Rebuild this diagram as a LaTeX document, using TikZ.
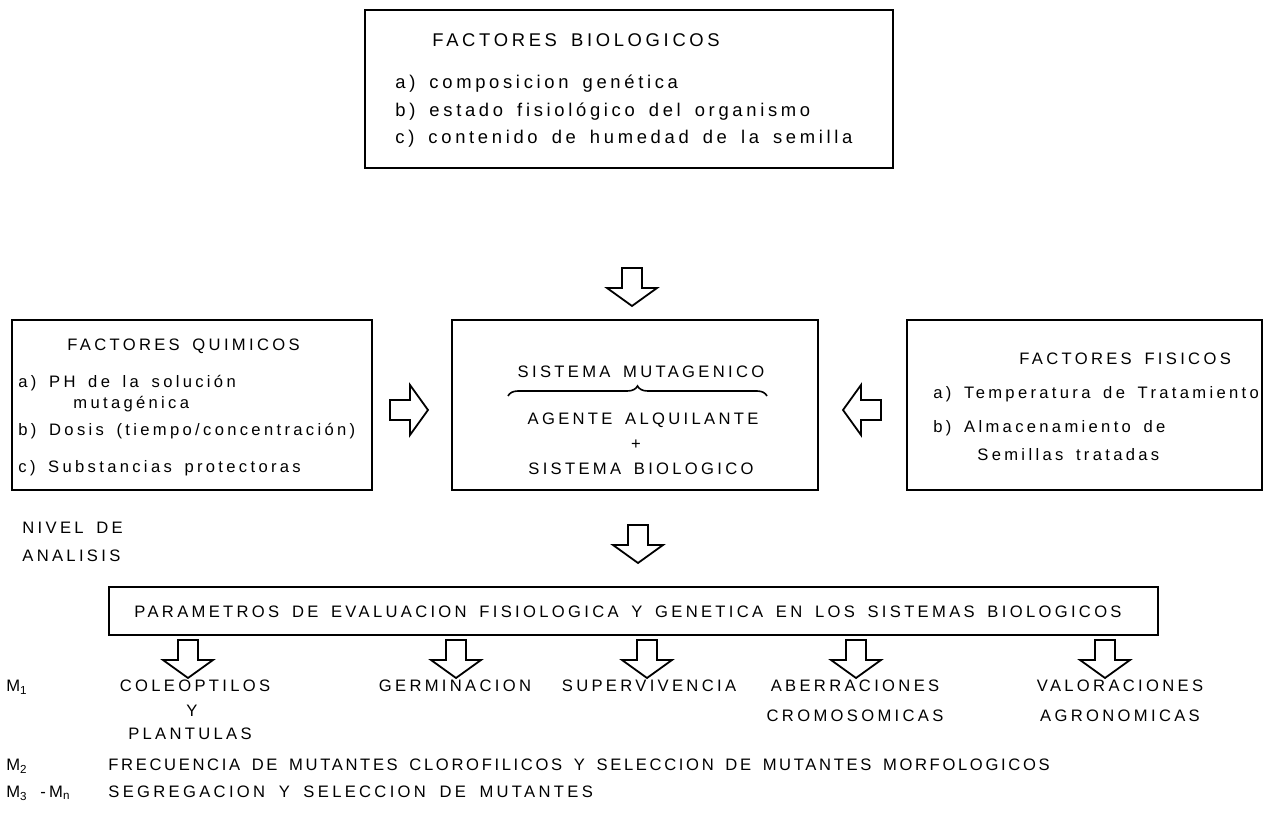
\documentclass[tikz,border=0pt]{standalone}
\usepackage{fontspec}
\setmainfont{Liberation Sans}
\newfontfamily\lettering{Liberation Sans}[LetterSpace=20,WordSpace=1.6]
\usetikzlibrary{calc,fit,decorations.pathreplacing}

\begin{document}
\begin{tikzpicture}[
    x=0.5pt, y=-0.5pt,
    every node/.style={inner sep=0pt, text height=6pt, text depth=0pt,
      font=\lettering\fontsize{8.3}{10}\selectfont},
    frame/.style={draw, line width=1pt, inner sep=0pt},
    biglbl/.style={text height=6.6pt, font=\lettering\fontsize{9.2}{11}\selectfont},
    arrowline/.style={draw, line width=0.9pt, line join=miter, fill=white},
    hollowarrow/.pic={
      \path[arrowline] (-19,-10) -- (1,-10) -- (1,-25) -- (19,0)
        -- (1,25) -- (1,10) -- (-19,10) -- cycle;
    }
  ]
  \useasboundingbox (0,0) rectangle (1264,822);

  % Boxes
  \node[frame, fit={(365,10) (893,168)}] (bio) {};
  \node[frame, fit={(12,320) (372,490)}] (quim) {};
  \node[frame, fit={(452,320) (818,490)}] (sist) {};
  \node[frame, fit={(907,320) (1262,490)}] (fis) {};
  \node[frame, fit={(109,587) (1158,635)}] (param) {};

  % Factores biologicos
  \node[biglbl, anchor=west] (bioT) at (432,40) {FACTORES BIOLOGICOS};
  \node[biglbl, anchor=west] (bioA) at (395,82) {a) composicion genética};
  \node[biglbl, anchor=west] (bioB) at (395,110) {b) estado fisiológico del organismo};
  \node[biglbl, anchor=west] (bioC) at (395,137) {c) contenido de humedad de la semilla};

  % Factores quimicos
  \node[anchor=west] (quimT) at (67,345) {FACTORES QUIMICOS};
  \node[anchor=west] (quimA) at (18,382) {a) PH de la solución};
  \node[anchor=west] (quimA2) at (73,403) {mutagénica};
  \node[anchor=west] (quimB) at (18,430) {b) Dosis (tiempo/concentración)};
  \node[anchor=west] (quimC) at (18,467) {c) Substancias protectoras};

  % Sistema mutagenico
  \node (sistT) at (641,372) {SISTEMA MUTAGENICO};
  \node (agente) at (643,419) {AGENTE ALQUILANTE};
  \node (plus) at (636,444) {+};
  \node (sistB) at (641,469) {SISTEMA BIOLOGICO};
  \draw[line width=0.8pt, decorate, decoration={brace, amplitude=5pt}]
    (508,396) -- (767,396);

  % Factores fisicos
  \node[anchor=west] (fisT) at (1019,359) {FACTORES FISICOS};
  \node[anchor=west] (fisA) at (933,393) {a) Temperatura de Tratamiento};
  \node[anchor=west] (fisB) at (933,427) {b) Almacenamiento de};
  \node[anchor=west] (fisB2) at (977,455) {Semillas tratadas};

  % Flechas hacia el sistema
  \path (632,287) pic[rotate=-90] {hollowarrow};
  \path (409,410) pic {hollowarrow};
  \path (862,410) pic[rotate=180] {hollowarrow};

  % Nivel de analisis
  \node[anchor=west] (nivel) at (22,528) {NIVEL DE};
  \node[anchor=west] (analisis) at (22,556) {ANALISIS};
  \path (638,544) pic[rotate=-90] {hollowarrow};
  \node (paramT) at (628,612) {PARAMETROS DE EVALUACION FISIOLOGICA Y GENETICA EN LOS SISTEMAS BIOLOGICOS};

  % Parametros
  \foreach \px in {188,456,647,856,1105}
    \path (\px,659) pic[rotate=-90] {hollowarrow};

  \node[anchor=west] (m1) at (6,686) {M\textsubscript{1}};
  \node (coleo) at (195,686) {COLEOPTILOS};
  \node (coleoY) at (192,711) {Y};
  \node (coleoP) at (190,734) {PLANTULAS};
  \node (germ) at (455,686) {GERMINACION};
  \node (superv) at (649,686) {SUPERVIVENCIA};
  \node (aberr) at (855,686) {ABERRACIONES};
  \node (aberrC) at (855,716) {CROMOSOMICAS};
  \node (valor) at (1120,686) {VALORACIONES};
  \node (valorA) at (1120,716) {AGRONOMICAS};

  \node[anchor=west] (m2) at (6,765) {M\textsubscript{2}};
  \node[anchor=west] (frec) at (108,765) {\addfontfeature{LetterSpace=16}FRECUENCIA DE MUTANTES CLOROFILICOS Y SELECCION DE MUTANTES MORFOLOGICOS};
  \node[anchor=west] (m3) at (6,792) {M\textsubscript{3} -M\textsubscript{n}};
  \node[anchor=west] (segr) at (108,792) {\spaceskip=6.8pt\relax SEGREGACION Y SELECCION DE MUTANTES};
\end{tikzpicture}
\end{document}
